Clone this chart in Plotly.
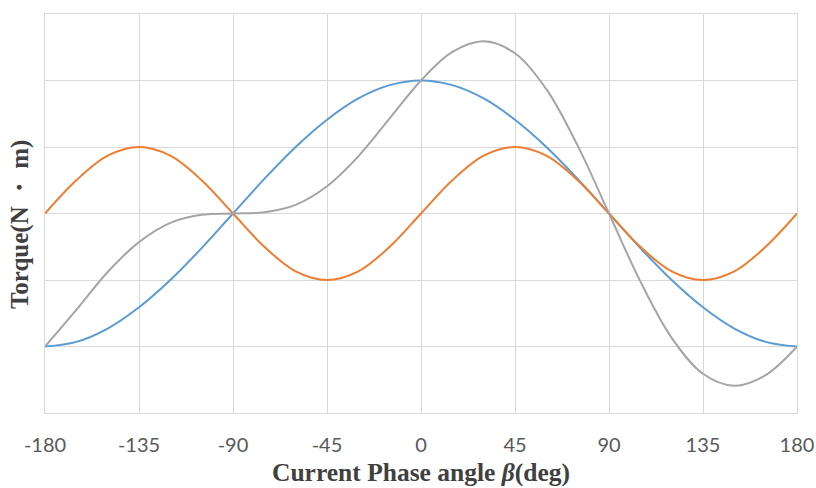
import plotly.graph_objects as go

beta = [-180, -165, -150, -135, -120, -105, -90, -75, -60, -45, -30, -15, 0,
        15, 30, 45, 60, 75, 90, 105, 120, 135, 150, 165, 180]

magnet_torque = [-2.0, -1.93, -1.73, -1.41, -1.0, -0.52, 0.0, 0.52, 1.0, 1.41, 1.73, 1.93, 2.0,
                 1.93, 1.73, 1.41, 1.0, 0.52, 0.0, -0.52, -1.0, -1.41, -1.73, -1.93, -2.0]

reluctance_torque = [0.0, 0.5, 0.87, 1.0, 0.87, 0.5, 0.0, -0.5, -0.87, -1.0, -0.87, -0.5, 0.0,
                     0.5, 0.87, 1.0, 0.87, 0.5, 0.0, -0.5, -0.87, -1.0, -0.87, -0.5, 0.0]

total_torque = [-2.0, -1.45, -0.88, -0.43, -0.14, -0.02, 0.0, 0.02, 0.13, 0.41, 0.86, 1.43, 2.0,
                2.43, 2.59, 2.41, 1.87, 1.02, 0.0, -1.02, -1.87, -2.41, -2.59, -2.43, -2.0]

x_ticks = [-180, -135, -90, -45, 0, 45, 90, 135, 180]

grid = "#d9d9d9"
serif = "Liberation Serif, Times New Roman, serif"

fig = go.Figure()
fig.add_trace(go.Scatter(x=beta, y=magnet_torque, mode="lines",
                         line=dict(color="#5b9bd5", width=2, shape="spline"), name="Magnet"))
fig.add_trace(go.Scatter(x=beta, y=reluctance_torque, mode="lines",
                         line=dict(color="#ed7d31", width=2, shape="spline"), name="Reluctance"))
fig.add_trace(go.Scatter(x=beta, y=total_torque, mode="lines",
                         line=dict(color="#a5a5a5", width=2, shape="spline"), name="Total"))

fig.update_layout(
    width=816, height=488,
    margin=dict(l=45, r=19, t=14, b=75, autoexpand=False),
    paper_bgcolor="white", plot_bgcolor="white",
    showlegend=False,
    xaxis=dict(
        range=[-180, 180], tickvals=x_ticks, ticktext=[str(v) for v in x_ticks],
        showgrid=True, gridcolor=grid, gridwidth=1,
        zeroline=True, zerolinecolor=grid, zerolinewidth=1,
        showline=True, linecolor=grid, linewidth=1, mirror=True,
        ticks="", ticklabelstandoff=14, automargin=False,
        tickfont=dict(family="Lato, Liberation Sans, sans-serif", size=20, color="#595959"),
    ),
    yaxis=dict(
        range=[-3, 3], dtick=1,
        showgrid=True, gridcolor=grid, gridwidth=1,
        zeroline=True, zerolinecolor=grid, zerolinewidth=1,
        showline=True, linecolor=grid, linewidth=1, mirror=True,
        showticklabels=False, ticks="", automargin=False,
    ),
    annotations=[
        dict(text="<b>Current Phase angle <i>β</i>(deg)</b>", xref="paper", yref="paper",
             x=0.5, y=-0.148, xanchor="center", yanchor="middle", showarrow=False,
             font=dict(family=serif, size=25.5, color="#404040")),
        dict(text="<b>Torque(N ・ m)</b>", xref="paper", yref="paper",
             x=-0.0332, y=0.471, xanchor="center", yanchor="middle", showarrow=False,
             textangle=-90, font=dict(family=serif, size=25, color="#404040")),
    ],
)

fig.write_html("out.html")
